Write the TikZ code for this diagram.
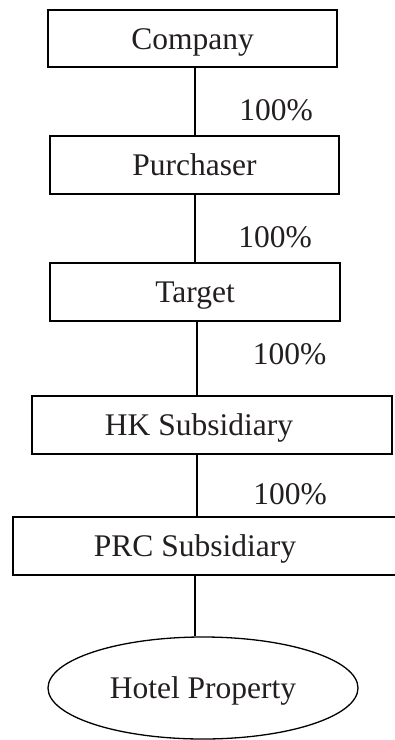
\documentclass[tikz,border=0pt]{standalone}
\usepackage{fontspec}
\setmainfont{Liberation Serif}
\usetikzlibrary{shapes.geometric}
\definecolor{ink}{HTML}{231F20}
\begin{document}
\begin{tikzpicture}[x=1pt,y=-1pt,
  entity/.style={draw=black, line width=1.3pt, rectangle, inner sep=0pt,
    minimum height=58pt, text height=21pt, text depth=0pt, text=ink,
    font=\fontsize{31.5}{36}\selectfont},
  estate/.style={draw=black, line width=1.3pt, ellipse, inner sep=0pt,
    text height=21pt, text depth=0pt, text=ink,
    font=\fontsize{31.5}{36}\selectfont},
  pct/.style={anchor=base, inner sep=0pt, text=ink,
    font=\fontsize{31.5}{36}\selectfont},
  link/.style={draw=black, line width=1.2pt}]
\fill[white] (0,0) rectangle (395,740);
\clip (0,0) rectangle (395,740);
% guide x positions for the connectors
\coordinate (ga) at (195,0);
\coordinate (gb) at (197,0);
% entities
\node[entity, minimum width=289pt, minimum height=57pt] (company) at (192.5,38.5) {Company};
\node[entity, minimum width=289pt] (purch) at (194.5,165) {Purchaser};
\node[entity, minimum width=290pt] (target) at (195,292) {Target};
\node[entity, minimum width=360pt] (hk) at (212,425) {HK Subsidiary\hspace*{26pt}};
\node[entity, minimum width=387pt] (prc) at (206.5,546) {PRC Subsidiary\hspace*{23pt}};
\node[estate, minimum width=310pt, minimum height=102pt] (hotel) at (203,688) {Hotel Property};
% percentages
\node[pct] (p1) at (276,120) {100\%};
\node[pct] (p2) at (275,247) {100\%};
\node[pct] (p3) at (289.5,364) {100\%};
\node[pct] (p4) at (290,504) {100\%};
% connectors
\draw[link] (ga |- company.south) -- (ga |- purch.north);
\draw[link] (ga |- purch.south) -- (ga |- target.north);
\draw[link] (gb |- target.south) -- (gb |- hk.north);
\draw[link] (gb |- hk.south) -- (gb |- prc.north);
\draw[link] (ga |- prc.south) -- (ga |- hotel.north);
\end{tikzpicture}
\end{document}
